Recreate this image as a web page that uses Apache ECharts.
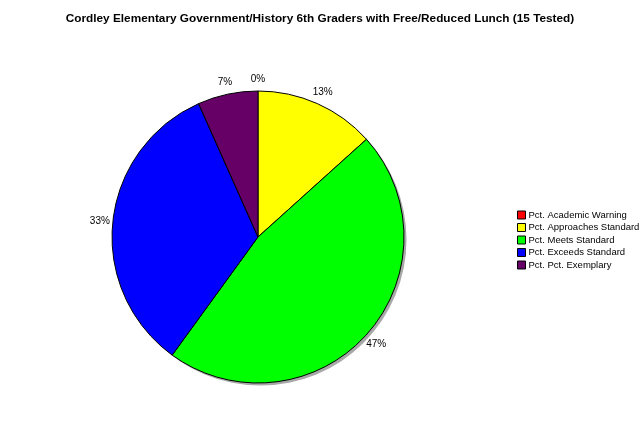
<!DOCTYPE html>
<html><head><meta charset="utf-8">
<script src="https://cdn.jsdelivr.net/npm/echarts@6/dist/echarts.min.js"></script>
<style>html,body{margin:0;padding:0;background:#fff}#c{width:640px;height:438px}</style>
</head><body><div id="c"></div>
<script>
var titleText = 'Cordley Elementary Government/History 6th Graders with Free/Reduced Lunch (15 Tested)';
var categories = ['Pct. Academic Warning','Pct. Approaches Standard','Pct. Meets Standard','Pct. Exceeds Standard','Pct. Pct. Exemplary'];
var values = [0, 13.33, 46.67, 33.33, 6.67];
var colors = ['#ff0000','#ffff00','#00ff00','#0000ff','#660066'];

var chart = echarts.init(document.getElementById('c'), null, {renderer:'canvas'});
var mainData = categories.map(function(n,i){return {name:n, value:values[i], itemStyle:{color:colors[i]}};});
var labelData = categories.map(function(n,i){return {name:n, value:values[i]};});
var font = 'Liberation Sans, Arial, sans-serif';
chart.setOption({
  animation:false,
  title:{text:titleText,left:'center',top:8,textStyle:{fontFamily:font,fontSize:11.8,fontWeight:'bold',color:'#000'}},
  legend:{orient:'vertical',left:512,top:205,itemWidth:8,itemHeight:8,itemGap:2.5,icon:'rect',
    data:categories,
    itemStyle:{borderColor:'#000',borderWidth:1},
    textStyle:{fontFamily:font,fontSize:9.5,color:'#000',padding:[0,0,0,-2]}},
  series:[
    {type:'pie',silent:true,center:[260.5,239.5],radius:[0,146],startAngle:90,
     data:[{name:'shadow',value:1}],itemStyle:{color:'#a8a8a8'},label:{show:false},labelLine:{show:false},
     legendHoverLink:false,tooltip:{show:false},z:1},
    {type:'pie',center:[258,237],radius:[0,146],startAngle:90,clockwise:true,
     data:mainData,itemStyle:{borderColor:'#000',borderWidth:1},
     label:{show:false},labelLine:{show:false},z:2},
    {type:'pie',silent:true,center:[258,238],radius:[144,168],startAngle:90,clockwise:true,
     data:labelData,itemStyle:{color:'rgba(0,0,0,0)'},
     label:{show:true,position:'inside',fontFamily:font,fontSize:10,color:'#000',
       formatter:function(p){return Math.round(p.value)+'%';}},
     labelLine:{show:false},z:3}
  ]
});
</script></body></html>
